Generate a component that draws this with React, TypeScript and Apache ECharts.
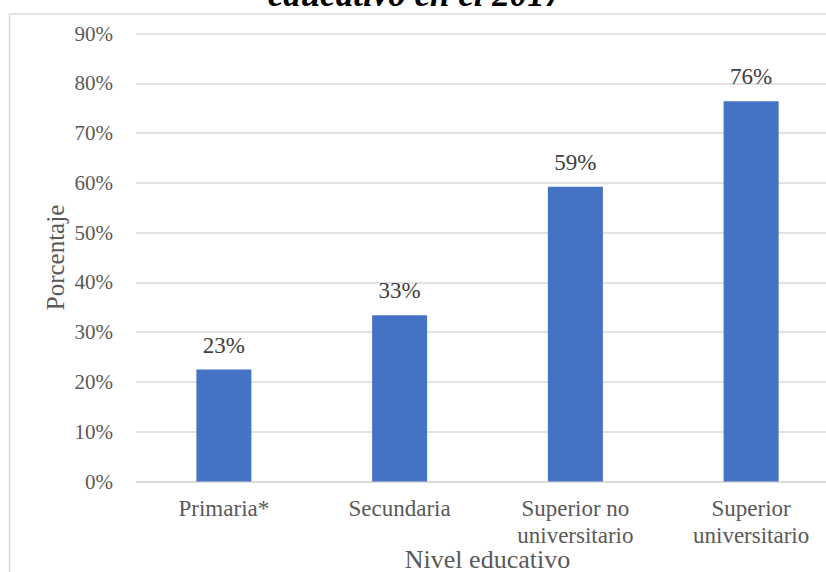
import React, { useEffect, useRef } from "react";
import * as echarts from "echarts";

const categories = ["Primaria*", "Secundaria", "Superior no\nuniversitario", "Superior\nuniversitario"];
const percentValues = [22.5, 33.4, 59.2, 76.4];
const yTicks = { min: 0, max: 90, interval: 10 };
const titleText = "educativo en el 2017";
const xAxisName = "Nivel educativo";
const yAxisName = "Porcentaje";

const FONT = "'Liberation Serif', 'Times New Roman', serif";

export default function App() {
  const ref = useRef<HTMLDivElement>(null);
  useEffect(() => {
    if (!ref.current) return;
    const chart = echarts.init(ref.current, undefined, { renderer: "svg" });
    chart.setOption({
      animation: false,
      backgroundColor: "#ffffff",
      textStyle: { fontFamily: FONT },
      graphic: [
        {
          type: "rect",
          shape: { x: 9.5, y: 14, width: 900, height: 700 },
          style: { fill: "none", stroke: "#d9d9d9", lineWidth: 1.5 },
          silent: true,
          z: -10,
        },
        {
          type: "text",
          x: 415,
          y: 12,
          style: {
            text: titleText,
            font: "italic bold 35px " + FONT,
            fill: "#000000",
            align: "center",
            verticalAlign: "bottom",
          },
        },
      ],
      grid: { left: 136, top: 33.5, width: 703, height: 448, outerBoundsMode: "none", containLabel: false },
      xAxis: {
        type: "category",
        data: categories,
        axisLine: { lineStyle: { color: "#d9d9d9", width: 1.5 } },
        axisTick: { show: false },
        axisLabel: {
          color: "#595959",
          fontSize: 23,
          lineHeight: 27,
          fontFamily: FONT,
          margin: 13,
          interval: 0,
        },
        name: xAxisName,
        nameLocation: "middle",
        nameGap: 65,
        nameMoveOverlap: false,
        nameTextStyle: { color: "#595959", fontSize: 26, fontFamily: FONT },
      },
      yAxis: {
        type: "value",
        min: yTicks.min,
        max: yTicks.max,
        interval: yTicks.interval,
        axisLine: { show: false },
        axisTick: { show: false },
        splitLine: { lineStyle: { color: "#d9d9d9", width: 1.5 } },
        axisLabel: {
          color: "#595959",
          fontSize: 21,
          fontFamily: FONT,
          margin: 23,
          formatter: "{value}%",
        },
        name: yAxisName,
        nameLocation: "middle",
        nameGap: 68,
        nameMoveOverlap: false,
        nameTextStyle: { color: "#595959", fontSize: 25, fontFamily: FONT },
      },
      series: [
        {
          type: "bar",
          data: percentValues,
          barWidth: 55,
          itemStyle: { color: "#4472C4" },
          label: {
            show: true,
            position: "top",
            distance: 13,
            color: "#404040",
            fontSize: 23,
            fontFamily: FONT,
            formatter: (p: any) => Math.round(p.value) + "%",
          },
        },
      ],
    });
    return () => chart.dispose();
  }, []);
  return (
    <div
      ref={ref}
      style={{ position: "fixed", left: 0, top: 0, width: 826, height: 572 }}
    />
  );
}
